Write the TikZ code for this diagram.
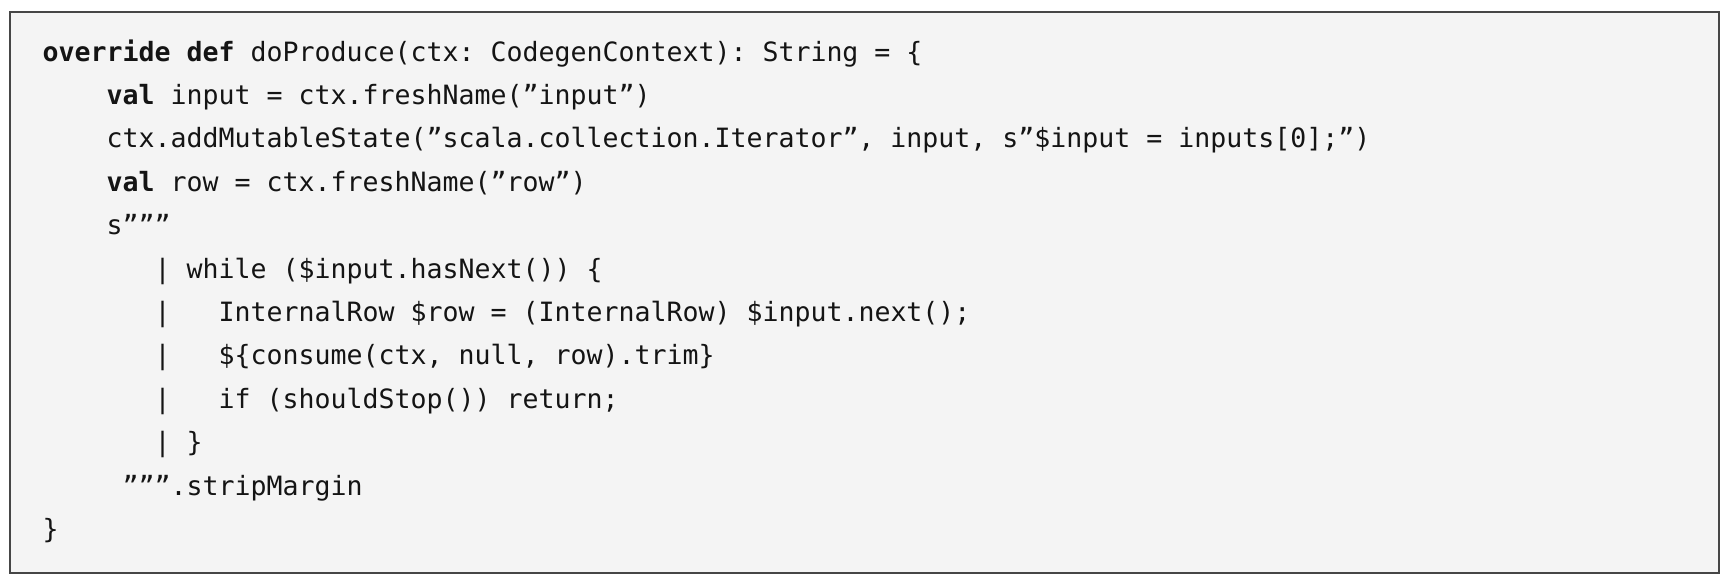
\documentclass[tikz,border=0pt]{standalone}
\usepackage{fontspec}
\setmonofont{DejaVu Sans Mono}
\usepackage{tikz}
\usetikzlibrary{positioning}
\definecolor{listingcolor}{RGB}{244, 244, 244}
\definecolor{framecolor}{RGB}{70, 70, 70}
\definecolor{codecolor}{RGB}{20, 20, 20}

\begin{document}
\begin{tikzpicture}[
    codeline/.style={anchor=base west, inner sep=0pt, text=codecolor, font=\ttfamily\fontsize{7.56}{9}\selectfont},
    kw/.style={font=\ttfamily\bfseries\fontsize{7.56}{9}\selectfont}]
    \useasboundingbox (0, 0) rectangle (17.27, -5.82);

    % Listing frame
    \node[draw=framecolor, fill=listingcolor, line width=0.5pt, inner sep=0pt, anchor=north west, minimum width=17.09cm, minimum height=5.61cm] (frame) at (0.09, -0.11) {};

    % Method header
    \node[codeline] (l1) at (0.42, -0.61) {{\bfseries override def} doProduce(ctx: CodegenContext): String = \{};

    % Body
    \node[codeline] (l2) at (1.06, -1.044) {{\bfseries val} input = ctx.freshName(”input”)};
    \node[codeline] (l3) at (1.06, -1.478) {ctx.addMutableState(”scala.collection.Iterator”, input, s”\$input = inputs[0];”)};
    \node[codeline] (l4) at (1.06, -1.912) {{\bfseries val} row = ctx.freshName(”row”)};
    \node[codeline] (l5) at (1.06, -2.346) {s”””};

    % Generated Java code
    \node[codeline] (l6) at (1.54, -2.780) {|\ while (\$input.hasNext()) \{};
    \node[codeline] (l7) at (1.54, -3.214) {|\ \ \ InternalRow \$row = (InternalRow) \$input.next();};
    \node[codeline] (l8) at (1.54, -3.648) {|\ \ \ \$\{consume(ctx, null, row).trim\}};
    \node[codeline] (l9) at (1.54, -4.082) {|\ \ \ if (shouldStop()) return;};
    \node[codeline] (l10) at (1.54, -4.516) {|\ \}};

    % Closing
    \node[codeline] (l11) at (1.22, -4.950) {”””.stripMargin};
    \node[codeline] (l12) at (0.42, -5.384) {\}};

\end{tikzpicture}
\end{document}
